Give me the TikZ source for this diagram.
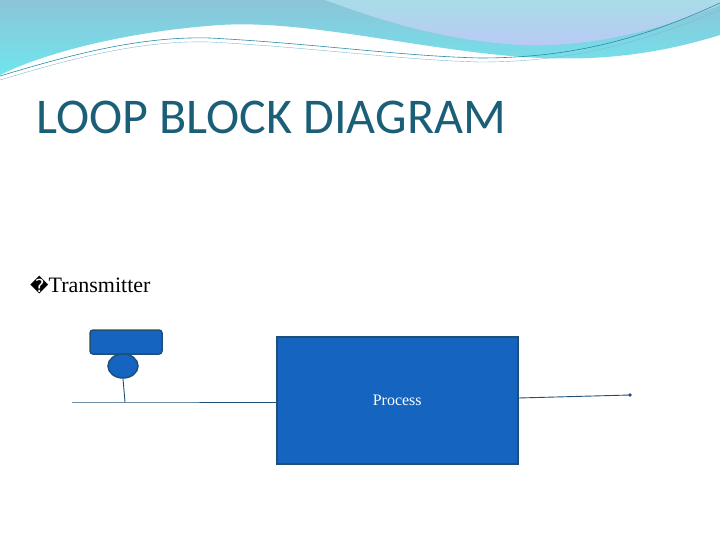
\documentclass[tikz,border=0pt]{standalone}
\usepackage{fontspec}
\usetikzlibrary{shapes.geometric}
\setmainfont{Liberation Serif}
\newfontfamily\titlefont{Carlito}
\newfontfamily\symfont{DejaVu Sans}
\definecolor{blk}{HTML}{1565C0}
\definecolor{edge}{HTML}{1F4E79}
\definecolor{ttl}{HTML}{1B5E78}
\definecolor{wa}{HTML}{8CC4D8}
\definecolor{wb}{HTML}{6FE6EE}
\definecolor{wc}{HTML}{A9DCE8}
\definecolor{wline}{HTML}{2A8CA8}
\tikzset{blockbox/.style={draw=edge,line width=1.5pt,fill=blk},
 wire/.style={draw=edge,line width=0.9pt}}
\begin{document}
\begin{tikzpicture}[x=1pt,y=-1pt]
\useasboundingbox (0,0) rectangle (720,540);
% top waves
\shade[top color=wa,bottom color=wb] (0,0) -- (720,0) -- (720,35) .. controls (640,60) and (570,62) .. (500,55) .. controls (400,45) and (300,20) .. (220,25) .. controls (120,32) and (40,55) .. (0,75) -- cycle;
\shade[top color=wc,bottom color=wa!60!blue!40] (325,0) -- (720,0) -- (720,5) .. controls (660,30) and (590,48) .. (520,45) .. controls (440,40) and (380,20) .. (325,0) -- cycle;
\draw[wline,line width=0.6pt] (0,76) .. controls (70,55) and (140,36) .. (210,38) .. controls (320,44) and (400,56) .. (480,58) .. controls (580,58) and (650,35) .. (720,3);
\draw[wline!60,line width=0.4pt] (0,80) .. controls (70,59) and (140,40) .. (210,42) .. controls (320,48) and (400,60) .. (480,62) .. controls (580,62) and (650,39) .. (720,10);
% title
\node[anchor=west,text=ttl,font=\titlefont\fontsize{50}{56}\selectfont,inner sep=0] (title) at (36,117) {LOOP BLOCK DIAGRAM};
\node[anchor=west,font=\fontsize{22}{26}\selectfont,inner sep=0] (bullet) at (30,285) {{\symfont\fontsize{18}{20}\selectfont\char"FFFD}Transmitter};
% process
\node[blockbox,minimum width=241,minimum height=127,inner sep=0,anchor=north west,font=\fontsize{16}{18}\selectfont,text=white] (proc) at (276,336) {Process};
% transmitter
\node[blockbox,rounded corners=3pt,minimum width=72,minimum height=24,inner sep=0] (tx) at (126,342) {};
\node[blockbox,ellipse,minimum width=30,minimum height=24,inner sep=0] (bulb) at (123,366) {};
\coordinate (tap) at (125,402);
\coordinate (lin) at (72,402);
\coordinate (out) at (630,395);
\draw[wire] (lin) -- (tap) -- (proc.west |- tap);
\draw[wire] (bulb.south) -- (tap);
\draw[wire] (proc.east |- 0,398) -- (out);
\fill[edge] (out) circle (1.8);
\end{tikzpicture}
\end{document}
